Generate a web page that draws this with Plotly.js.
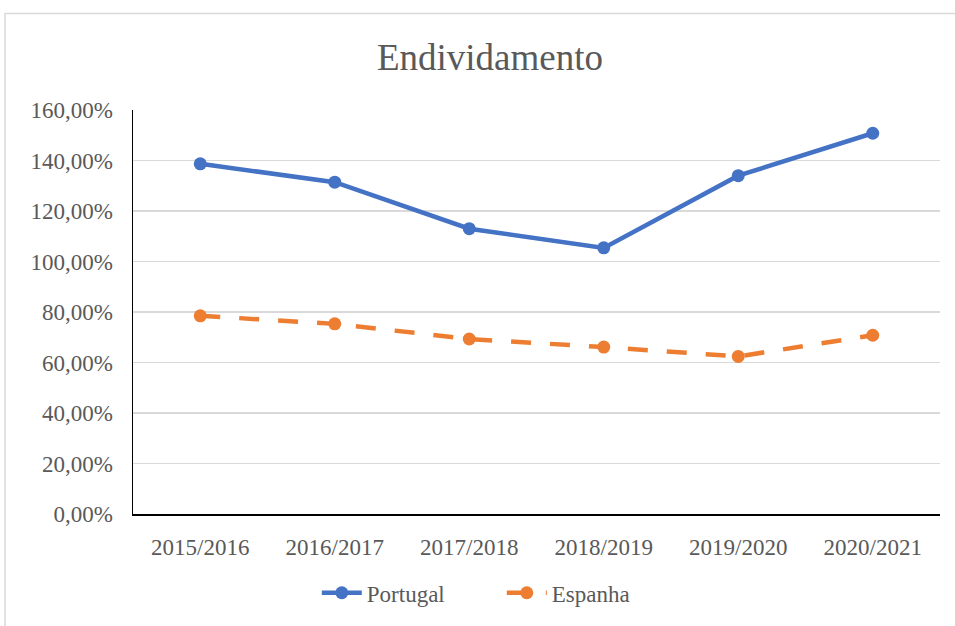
<!DOCTYPE html>
<html>
<head>
<meta charset="utf-8">
<script src="https://cdn.plot.ly/plotly-3.0.1.min.js"></script>
<style>html,body{margin:0;padding:0;background:#fff;}#chart{width:955px;height:626px;}</style>
</head>
<body>
<div id="chart"></div>
<script>
const categories = ["2015/2016", "2016/2017", "2017/2018", "2018/2019", "2019/2020", "2020/2021"];
const portugal = [138.7, 131.4, 113.0, 105.4, 134.0, 150.8];
const espanha = [78.5, 75.3, 69.3, 66.1, 62.4, 70.8];
const yTicks = [0, 20, 40, 60, 80, 100, 120, 140, 160];
const yTickLabels = ["0,00%", "20,00%", "40,00%", "60,00%", "80,00%", "100,00%", "120,00%", "140,00%", "160,00%"];

const textColor = "#595959";
const font = "Liberation Serif, Times New Roman, serif";

const traces = [
  {
    x: categories, y: portugal, name: "Portugal", type: "scatter", mode: "lines+markers",
    line: {color: "#4472C4", width: 4.5},
    marker: {color: "#4472C4", size: 13}
  },
  {
    x: categories, y: espanha, name: "Espanha", type: "scatter", mode: "lines+markers",
    line: {color: "#ED7D31", width: 4.5, dash: "20px,19px"},
    marker: {color: "#ED7D31", size: 13}
  }
];

const layout = {
  width: 955, height: 626,
  margin: {l: 133, r: 15, t: 110, b: 110},
  paper_bgcolor: "#fff", plot_bgcolor: "#fff",
  font: {family: font, color: textColor, size: 21},
  showlegend: true,
  title: {
    text: "Endividamento",
    font: {family: font, size: 37, color: textColor},
    xref: "container", x: 0.513, xanchor: "center",
    yref: "container", y: 0.909, yanchor: "middle"
  },
  xaxis: {
    type: "category", range: [-0.5, 5.5],
    showgrid: false, zeroline: false,
    showline: true, linecolor: "#000", linewidth: 1.5,
    ticks: "", ticklabelstandoff: 12,
    tickfont: {family: font, size: 23, color: textColor}
  },
  yaxis: {
    range: [0, 160], tickvals: yTicks, ticktext: yTickLabels,
    showgrid: true, gridcolor: "#d9d9d9", gridwidth: 1.3,
    zeroline: false, showline: true, linecolor: "#000", linewidth: 1.5,
    ticks: "", ticklabelstandoff: 14,
    tickfont: {family: font, size: 23, color: textColor}
  },
  legend: {
    orientation: "h", x: 0.457, xanchor: "center", y: -0.195, yanchor: "middle",
    font: {family: font, size: 23, color: textColor},
    itemwidth: 40, entrywidth: 130, bgcolor: "rgba(0,0,0,0)"
  },
  shapes: [{
    type: "rect", xref: "paper", yref: "paper",
    x0: -0.1586, x1: 1.03, y0: -0.3, y1: 1.2389,
    line: {color: "#d9d9d9", width: 1.5}, fillcolor: "rgba(0,0,0,0)", layer: "below"
  }]
};

Plotly.newPlot("chart", traces, layout, {displayModeBar: false, staticPlot: true});
</script>
</body>
</html>
